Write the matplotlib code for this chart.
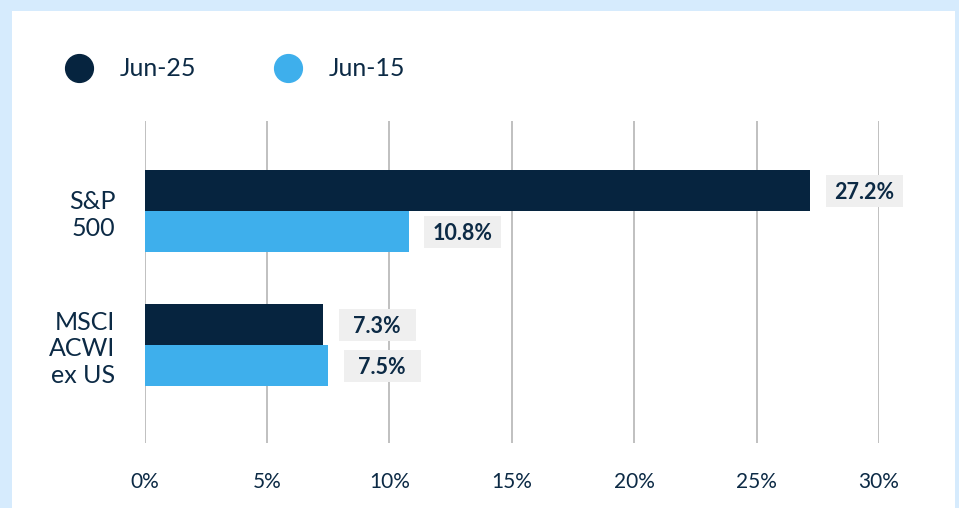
import matplotlib
matplotlib.use("Agg")
import matplotlib.pyplot as plt
import matplotlib.patches as mpatches
from matplotlib.lines import Line2D

plt.rcParams['font.family'] = ['Lato', 'DejaVu Sans']

categories = ["S&P\n500", "MSCI\nACWI\nex US"]
series_names = ["Jun-25", "Jun-15"]
jun25 = [27.2, 7.3]
jun15 = [10.8, 7.5]
xticks = [0, 5, 10, 15, 20, 25, 30]
xtick_labels = ["0%", "5%", "10%", "15%", "20%", "25%", "30%"]

DARK = "#06243f"
LIGHT = "#3eafec"
TEXT = "#0c2a45"
FRAME = "#d6ebfd"
GRID = "#c0c0c0"
BOX = "#efefef"

W, H = 959, 508
fig = plt.figure(figsize=(W / 100, H / 100), dpi=100)
fig.patch.set_facecolor(FRAME)
fig.patches.append(mpatches.Rectangle((12 / W, 0), (955 - 12) / W, (508 - 11) / H,
                                      transform=fig.transFigure, facecolor="white",
                                      edgecolor="none", zorder=-5))

ax_left, ax_right, ax_top, ax_bot = 144.5, 879.0, 121.0, 443.0
ax = fig.add_axes([ax_left / W, (H - ax_bot) / H, (ax_right - ax_left) / W, (ax_bot - ax_top) / H])
ax.set_facecolor("none")
ax.set_zorder(2)

unit_px = 134.0
top_m = (211 - ax_top) / unit_px
bot_m = (ax_bot - 345) / unit_px
ax.set_xlim(0, 30)
ax.set_ylim(1 + bot_m, -top_m)
px_x = (ax_right - ax_left) / 30.0

bh = 41 / unit_px
ypos = list(range(len(categories)))
ax.barh([y - bh / 2 for y in ypos], jun25, height=bh, color=DARK, zorder=3)
ax.barh([y + bh / 2 for y in ypos], jun15, height=bh, color=LIGHT, zorder=3)

box_w = 77 / px_x
box_h = 32 / unit_px
gap = 15.5 / px_x
for vals, off in ((jun25, -bh / 2), (jun15, bh / 2)):
    for y, v in zip(ypos, vals):
        x0 = v + gap
        yc = y + off
        ax.add_patch(mpatches.Rectangle((x0, yc - box_h / 2), box_w, box_h, facecolor=BOX,
                                        edgecolor="none", zorder=4, clip_on=False))
        ax.text(x0 + box_w / 2, yc, f"{v:.1f}%", ha="center", va="center_baseline",
                fontsize=15.5, fontweight="bold", color=TEXT, zorder=5, clip_on=False)

ax.set_xticks(xticks)
ax.set_xticklabels(xtick_labels)
ax.set_yticks(ypos)
ax.set_yticklabels(categories, linespacing=1.2)
ax.tick_params(axis="x", length=0, pad=21, labelsize=15, labelcolor=TEXT)
ax.tick_params(axis="y", length=0, pad=21, labelsize=18, labelcolor=TEXT)
ax.grid(axis="x", color=GRID, linewidth=1.4, zorder=1)
ax.set_axisbelow(True)
for s in ax.spines.values():
    s.set_visible(False)

handles = [Line2D([], [], marker="o", linestyle="none", markersize=20, color=c) for c in (DARK, LIGHT)]
fig.legend(handles, series_names, loc="center left", bbox_to_anchor=(51 / W, 1 - 69 / H),
           ncol=2, frameon=False, fontsize=18, labelcolor=TEXT, handletextpad=1.05,
           columnspacing=3.05, borderpad=0, handlelength=1.2)

fig.savefig("out.png", dpi=100, facecolor=fig.get_facecolor())
